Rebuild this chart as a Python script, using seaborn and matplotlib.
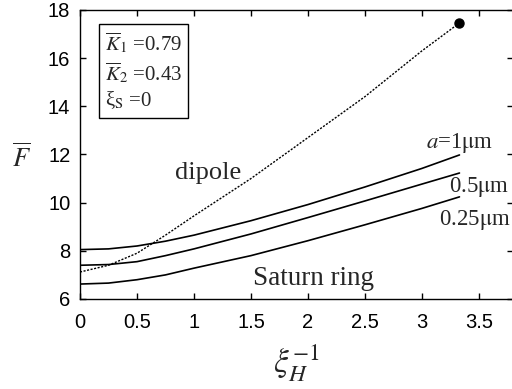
import numpy as np
import pandas as pd
import matplotlib
matplotlib.use("Agg")
import matplotlib.pyplot as plt
import seaborn as sns

# inverse Hartmann-type parameter on the x axis
xi_inv = [0.0, 0.25, 0.5, 0.75, 1.0, 1.5, 2.0, 2.5, 3.0, 3.33]

# normalised force for the Saturn-ring model, three particle radii
f_a1 = [8.05, 8.08, 8.20, 8.40, 8.65, 9.25, 9.92, 10.65, 11.42, 11.98]
f_a05 = [7.40, 7.43, 7.55, 7.80, 8.08, 8.70, 9.38, 10.07, 10.77, 11.23]
f_a025 = [6.62, 6.66, 6.80, 7.00, 7.28, 7.80, 8.42, 9.08, 9.76, 10.24]

# dipole approximation
f_dipole = [7.12, 7.40, 7.90, 8.65, 9.45, 11.00, 12.70, 14.40, 16.30, 17.46]

curve_labels = [r"$a$=1$\mathrm{\mu}$m", r"0.5$\mathrm{\mu}$m", r"0.25$\mathrm{\mu}$m"]
param_lines = [r"$\overline{K}_1$ =0.79", r"$\overline{K}_2$ =0.43", r"ξ$_\mathrm{S}$ =0"]

sns.set_style("ticks")
plt.rcParams["font.family"] = ["Liberation Sans", "DejaVu Sans"]
plt.rcParams["mathtext.fontset"] = "stix"

fig = plt.figure(figsize=(5.12, 3.89), dpi=100)
ax = fig.add_axes([0.1563, 0.2314, 0.8457, 0.743])

ring = pd.DataFrame({
    "x": xi_inv * 3,
    "F": f_a1 + f_a05 + f_a025,
    "radius": ["1"] * len(xi_inv) + ["0.5"] * len(xi_inv) + ["0.25"] * len(xi_inv),
})
sns.lineplot(data=ring, x="x", y="F", units="radius", estimator=None,
             color="black", lw=1.2, ax=ax, legend=False)

dip = pd.DataFrame({"x": xi_inv, "F": f_dipole})
sns.lineplot(data=dip, x="x", y="F", color="black", lw=1.0,
             linestyle=(0, (1.5, 1.1)), ax=ax, legend=False)
ax.plot([xi_inv[-1]], [f_dipole[-1]], "o", color="black", ms=6.5)

ax.set_xlim(0, 3.8)
ax.set_ylim(6, 18)
ax.set_xticks([0, 0.5, 1, 1.5, 2, 2.5, 3, 3.5])
ax.set_xticklabels(["0", "0.5", "1", "1.5", "2", "2.5", "3", "3.5"])
ax.set_yticks([6, 8, 10, 12, 14, 16, 18])
ax.tick_params(direction="in", length=4, width=1, labelsize=14.5,
               top=True, right=True, colors="black")
ax.tick_params(axis="x", pad=10)
ax.tick_params(axis="y", pad=7)
for s in ax.spines.values():
    s.set_linewidth(1.0)
    s.set_color("black")
    s.set_visible(True)

serif = ["Liberation Serif", "DejaVu Serif"]

ax.set_xlabel(r"$\xi_H^{-1}$", fontsize=24, labelpad=8)
ax.set_ylabel("")
ax.text(-0.135, 0.49, r"$\overline{F}$", fontsize=19, transform=ax.transAxes,
        ha="center", va="center")

# curve annotations
ax.text(3.04, 12.27, curve_labels[0], fontsize=16.5, family=serif, ha="left", va="baseline")
ax.text(3.24, 10.65, curve_labels[1], fontsize=16.5, family=serif, ha="left", va="center")
ax.text(3.15, 9.28, curve_labels[2], fontsize=16.5, family=serif, ha="left", va="center")
ax.text(1.12, 11.23, "dipole", fontsize=19, family=serif, ha="center", va="center")
ax.text(1.52, 6.87, "Saturn ring", fontsize=19.5, family=serif, ha="left", va="center")

# parameter box
ax.text(0.22, 17.15, "\n".join(param_lines), fontsize=15, family=serif,
        ha="left", va="top", linespacing=1.25,
        bbox=dict(boxstyle="square,pad=0.3", fc="white", ec="black", lw=1.0))

fig.savefig("out.png", dpi=100)
